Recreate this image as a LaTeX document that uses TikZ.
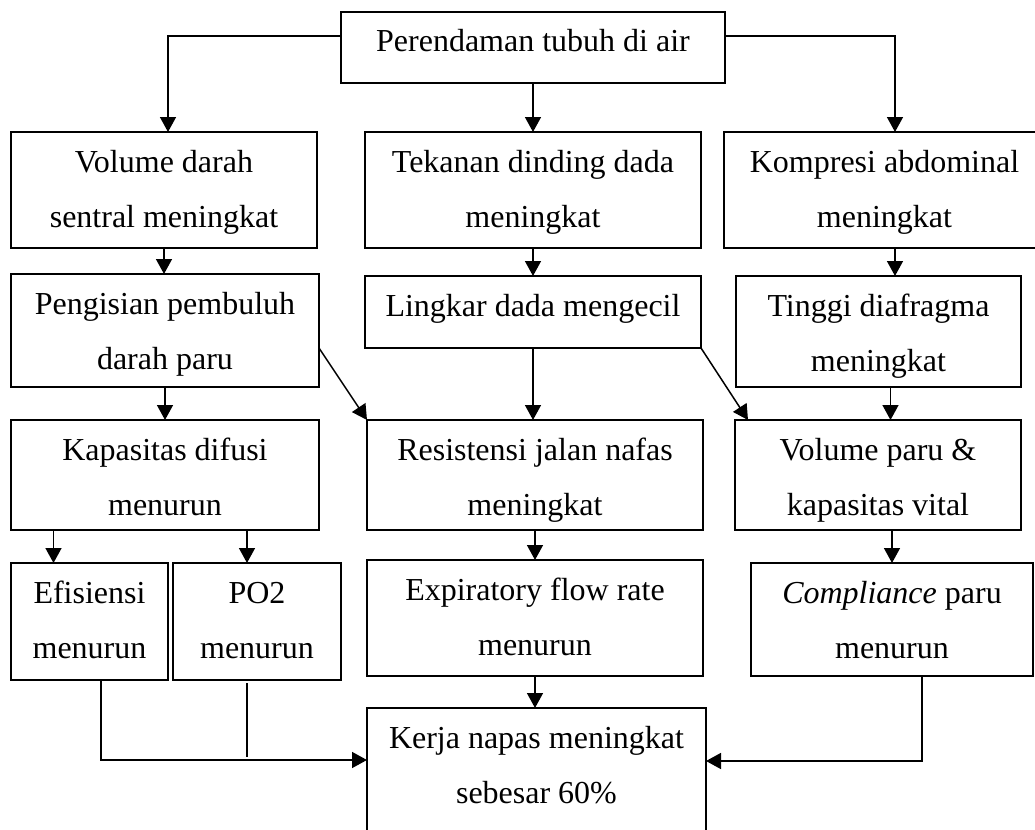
\documentclass[tikz,border=0pt]{standalone}
\usepackage{fontspec}
\setmainfont{Liberation Serif}
\usetikzlibrary{arrows.meta}
\newcommand{\isi}[3]{\parbox[c][#2][t]{#1}{\centering\rule{0pt}{20pt}#3}}
\begin{document}
\begin{tikzpicture}[x=0.5pt, y=-0.5pt,
        kotak/.style={draw, line width=0.75pt, inner sep=0pt, outer sep=0pt, anchor=north,
            font=\fontsize{16}{27.5}\selectfont},
        panah/.style={line width=0.75pt, -{Triangle[length=7.5pt, width=8pt]}},
        garis/.style={line width=0.75pt}]
            \clip (0,0) rectangle (1035,830);
            \node[kotak] (awal)       at (533.0, 12) {\isi{192pt}{35.5pt}{Perendaman tubuh di air}};
            \node[kotak] (volume)     at (164.0,132) {\isi{153pt}{58pt}{Volume darah\\sentral meningkat}};
            \node[kotak] (tekanan)    at (533.0,132) {\isi{168pt}{58pt}{Tekanan dinding dada\\meningkat}};
            \node[kotak] (kompresi)   at (884.5,132) {\isi{160.5pt}{58pt}{Kompresi abdominal\\meningkat}};
            \node[kotak] (pengisian)  at (165.0,274) {\isi{154pt}{56.5pt}{Pengisian pembuluh\\darah paru}};
            \node[kotak] (lingkar)    at (533.0,276) {\isi{168pt}{36pt}{Lingkar dada mengecil}};
            \node[kotak] (tinggi)     at (878.5,276) {\isi{142.5pt}{55.5pt}{Tinggi diafragma\\meningkat}};
            \node[kotak] (kapasitas)  at (165.0,420) {\isi{154pt}{55pt}{Kapasitas difusi\\menurun}};
            \node[kotak] (resistensi) at (535.0,420) {\isi{168pt}{55pt}{Resistensi jalan nafas\\meningkat}};
            \node[kotak] (volparu)    at (878.0,420) {\isi{143pt}{55pt}{Volume paru \&\\kapasitas vital}};
            \node[kotak] (efisiensi)  at ( 89.5,563) {\isi{78.5pt}{58.5pt}{Efisiensi\\menurun}};
            \node[kotak] (po2)        at (257.0,563) {\isi{84pt}{58.5pt}{PO2\\menurun}};
            \node[kotak] (ekspirasi)  at (535.0,560) {\isi{168pt}{58pt}{Expiratory flow rate\\menurun}};
            \node[kotak] (compliance) at (892.0,563) {\isi{141pt}{56.5pt}{\textit{Compliance} paru\\menurun}};
            \node[kotak] (kerja)      at (536.5,708) {\isi{169.5pt}{71pt}{Kerja napas meningkat\\sebesar 60\%}};
            \coordinate (kiri)    at (168,36);
            \coordinate (kanan)   at (895,36);
            \coordinate (gabung)  at (101,760);
            \coordinate (po2ujung) at (247,757);
            \coordinate (gabung2) at (922,761);
            \draw[panah] (awal.west |- kiri) -- (kiri) -- (kiri |- volume.north);
            \draw[panah] (awal.east |- kanan) -- (kanan) -- (kanan |- kompresi.north);
            \draw[panah] (awal.south) -- (awal.south |- tekanan.north);
            \draw[panah] (volume.south) -- (volume.south |- pengisian.north);
            \draw[panah] (tekanan.south) -- (tekanan.south |- lingkar.north);
            \draw[panah] (kanan |- kompresi.south) -- (kanan |- tinggi.north);
            \draw[panah] (pengisian.south) -- (pengisian.south |- kapasitas.north);
            \draw[panah] (pengisian.east |- lingkar.south) -- (resistensi.north west);
            \draw[panah] (lingkar.south east) -- ([xshift=6.5pt]volparu.north west);
            \draw[panah] (lingkar.south) -- (lingkar.south |- resistensi.north);
            \draw[panah] ([xshift=6pt]tinggi.south) -- ([xshift=6pt]tinggi.south |- volparu.north);
            \draw[panah] ([xshift=-18pt]efisiensi.north |- kapasitas.south) -- ([xshift=-18pt]efisiensi.north);
            \draw[panah] ([xshift=-5pt]po2.north |- kapasitas.south) -- ([xshift=-5pt]po2.north);
            \draw[panah] (resistensi.south) -- (resistensi.south |- ekspirasi.north);
            \draw[panah] (compliance.north |- volparu.south) -- (compliance.north);
            \draw[panah] (ekspirasi.south) -- (ekspirasi.south |- kerja.north);
            \draw[panah] (efisiensi.south -| gabung) -- (gabung) -- (gabung -| kerja.west);
            \draw[garis, shorten <=1.5pt] (po2.south -| po2ujung) -- (po2ujung);
            \draw[panah] (compliance.south -| gabung2) -- (gabung2) -- (gabung2 -| kerja.east);
\end{tikzpicture}
\end{document}
